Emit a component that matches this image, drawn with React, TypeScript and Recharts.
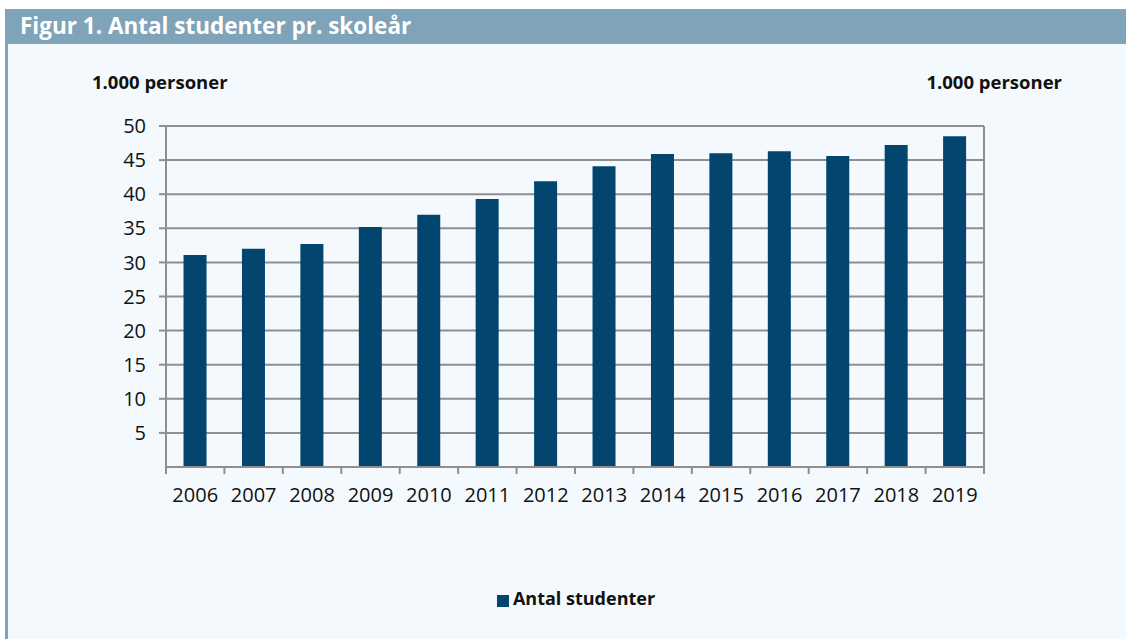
import React from "react";
import {
  BarChart,
  Bar,
  XAxis,
  YAxis,
  CartesianGrid,
  Legend,
} from "recharts";

const years = ["2006", "2007", "2008", "2009", "2010", "2011", "2012", "2013", "2014", "2015", "2016", "2017", "2018", "2019"];
const students = [31.1, 32.0, 32.7, 35.2, 37.0, 39.3, 41.9, 44.1, 45.9, 46.0, 46.3, 45.6, 47.2, 48.5];
const yTicks = [5, 10, 15, 20, 25, 30, 35, 40, 45, 50];

const data = years.map((y, i) => ({ year: y, value: students[i] }));

const W = 1126;
const H = 639;
const FONT = "'Open Sans', Lato, sans-serif";
const AXIS = "#8f8f8f";
const BAR = "#02466f";
const PLOT_LEFT = 166;
const PLOT_RIGHT = 984;
const BAND = (PLOT_RIGHT - PLOT_LEFT) / years.length;

function YearTick(props: any) {
  const { x, y, payload, index } = props;
  const top = y - 8;
  return (
    <g>
      <line x1={x - BAND / 2} x2={x - BAND / 2} y1={top} y2={top + 7} stroke={AXIS} strokeWidth={2} />
      {index === years.length - 1 && (
        <line x1={x + BAND / 2} x2={x + BAND / 2} y1={top} y2={top + 7} stroke={AXIS} strokeWidth={2} />
      )}
      <text x={x} y={y + 27} textAnchor="middle" fill="#111" fontSize={20} fontFamily={FONT}>
        {payload.value}
      </text>
    </g>
  );
}

export default function App() {
  return (
    <div style={{ position: "absolute", left: 0, top: 0, width: W, height: H, background: "#fff", fontFamily: FONT }}>
      <div style={{ position: "absolute", left: 5, top: 44, width: W - 5, height: H - 44, background: "#f4f9fd", borderLeft: "3px solid #7fa3b8", boxSizing: "border-box" }} />
      <div style={{ position: "absolute", left: 5, top: 9, width: W - 5, height: 35, background: "#7fa3b8" }} />
      <div style={{ position: "absolute", left: 20, top: 11, color: "#fff", fontWeight: 700, fontSize: 22.5, lineHeight: "30px", whiteSpace: "nowrap" }}>
        Figur 1. Antal studenter pr. skoleår
      </div>
      <div style={{ position: "absolute", left: 92, top: 70, color: "#111", fontWeight: 700, fontSize: 18.5, lineHeight: "24px", whiteSpace: "nowrap" }}>
        1.000 personer
      </div>
      <div style={{ position: "absolute", right: W - 1062, top: 70, color: "#111", fontWeight: 700, fontSize: 18.5, lineHeight: "24px", whiteSpace: "nowrap" }}>
        1.000 personer
      </div>
      <div style={{ position: "absolute", left: 0, top: 0 }}>
        <BarChart
          width={W}
          height={H}
          data={data}
          margin={{ top: 126, left: 106, right: 82, bottom: 142 }}
          barCategoryGap="30%"
        >
          <CartesianGrid vertical={false} stroke={AXIS} strokeWidth={2} yAxisId="left" />
          <XAxis
            dataKey="year"
            height={30}
            axisLine={{ stroke: AXIS, strokeWidth: 2 }}
            tickLine={false}
            tickSize={6}
            tickMargin={2}
            tick={<YearTick />}
            interval={0}
          />
          <YAxis
            yAxisId="left"
            orientation="left"
            width={60}
            domain={[0, 50]}
            ticks={yTicks}
            axisLine={{ stroke: AXIS, strokeWidth: 2 }}
            tickLine={{ stroke: AXIS, strokeWidth: 2 }}
            tickSize={7}
            tickMargin={13}
            tick={{ fill: "#111", fontSize: 20, fontFamily: FONT }}
          />
          <YAxis
            yAxisId="right"
            orientation="right"
            width={60}
            domain={[0, 50]}
            ticks={yTicks}
            axisLine={{ stroke: AXIS, strokeWidth: 2 }}
            tickLine={{ stroke: AXIS, strokeWidth: 2 }}
            tickSize={7}
            tickMargin={12}
            tick={{ fill: "#111", fontSize: 20, fontFamily: FONT, textAnchor: "start" }}
          />
          <Legend
            verticalAlign="middle"
            iconType="square"
            iconSize={12}
            wrapperStyle={{ top: 586, left: 112, width: 938 }}
            formatter={(v: string) => (
              <span style={{ color: "#111", fontWeight: 700, fontSize: 18, fontFamily: FONT }}>{v}</span>
            )}
          />
          <Bar
            yAxisId="left"
            dataKey="value"
            name="Antal studenter"
            fill={BAR}
            isAnimationActive={false}
          />
        </BarChart>
      </div>
    </div>
  );
}
